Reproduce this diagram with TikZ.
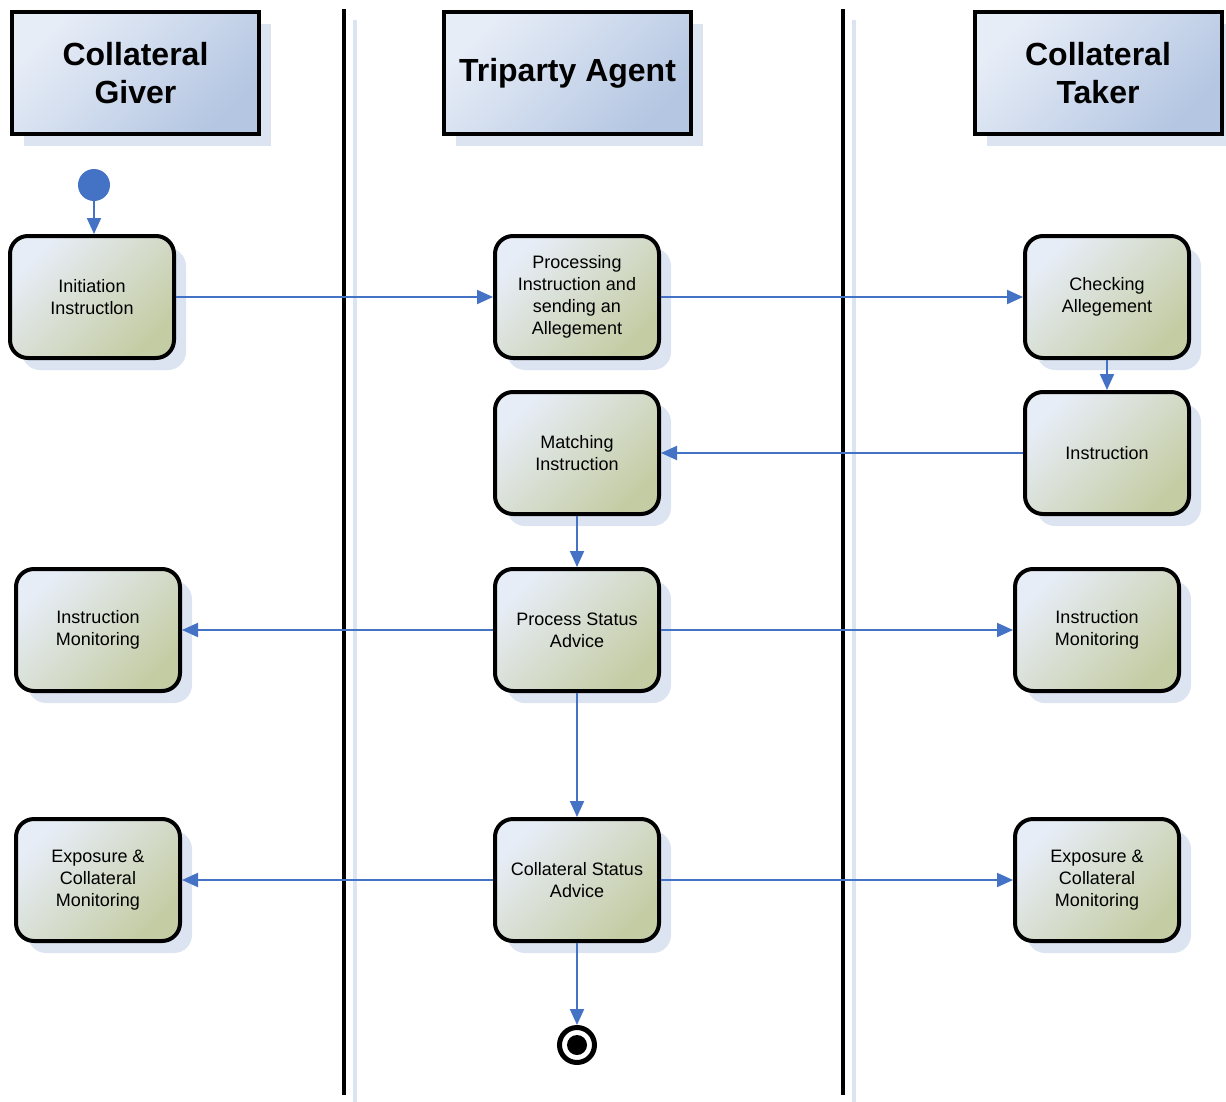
\documentclass[tikz,border=0pt]{standalone}
\usepackage{fontspec}
\setmainfont{Liberation Sans}
\usetikzlibrary{positioning,arrows.meta,shadows}

\definecolor{flowblue}{RGB}{68,114,196}
\definecolor{shadowblue}{RGB}{220,228,242}
\definecolor{boxlight}{RGB}{231,237,247}
\definecolor{boxolive}{RGB}{196,204,164}
\definecolor{headdark}{RGB}{180,198,226}

\tikzset{
  lanehead/.style={draw, line width=2pt, minimum width=123.5pt, minimum height=61pt,
    align=center, inner sep=0pt, font=\bfseries\fontsize{16}{19}\selectfont,
    top color=boxlight, bottom color=headdark, shading angle=45,
    drop shadow={shadow xshift=6pt, shadow yshift=-6pt, fill=shadowblue, opacity=1}},
  activity/.style={draw, line width=2pt, rounded corners=9pt, minimum width=82pt,
    minimum height=61pt, align=center, inner sep=0pt, font=\fontsize{9}{11}\selectfont,
    top color=boxlight, bottom color=boxolive, shading angle=45,
    drop shadow={shadow xshift=6pt, shadow yshift=-6pt, fill=shadowblue, opacity=1}},
  flow/.style={flowblue, line width=1pt, -{Triangle[length=8pt,width=7pt]}},
}

\begin{document}
\begin{tikzpicture}[x=0.5pt,y=-0.5pt]
  \useasboundingbox (0,0) rectangle (1226,1102);

  % swimlane separators
  \draw[shadowblue, line width=2pt] (355,20) -- (355,1102);
  \draw[shadowblue, line width=2pt] (854,20) -- (854,1102);
  \draw[line width=2pt] (344,9) -- (344,1095);
  \draw[line width=2pt] (843,9) -- (843,1095);

  % lane headers
  \node[lanehead] (giver) at (135.5,73) {Collateral\\Giver};
  \node[lanehead] (agent) at (567.5,73) {Triparty Agent};
  \node[lanehead] (taker) at (1098,73) {Collateral\\Taker};

  % start and end
  \node[circle, fill=flowblue, minimum size=16pt, inner sep=0pt] (start) at (94,185) {};
  \node[circle, draw, line width=2.5pt, minimum size=17.5pt, inner sep=0pt] (finish) at (577,1045) {};
  \fill (finish) circle (5pt);

  % activities
  \node[activity] (init) at (92,297) {Initiation\\Instructlon};
  \node[activity] (process) at (577,297) {Processing\\Instruction and\\sending an\\Allegement};
  \node[activity] (check) at (1107,297) {Checking\\Allegement};
  \node[activity] (match) at (577,453) {Matching\\Instruction};
  \node[activity] (instr) at (1107,453) {Instruction};
  \node[activity] (monleft) at (98,630) {Instruction\\Monitoring};
  \node[activity] (status) at (577,630) {Process Status\\Advice};
  \node[activity] (monright) at (1097,630) {Instruction\\Monitoring};
  \node[activity] (expleft) at (98,880) {Exposure \&\\Collateral\\Monitoring};
  \node[activity] (collat) at (577,880) {Collateral Status\\Advice};
  \node[activity] (expright) at (1097,880) {Exposure \&\\Collateral\\Monitoring};

  % flows
  \draw[flow] (start) -- (start |- init.north);
  \draw[flow] (init) -- (process);
  \draw[flow] (process) -- (check);
  \draw[flow] (check) -- (instr);
  \draw[flow] (instr) -- (match);
  \draw[flow] (match) -- (status);
  \draw[flow] (status) -- (monleft);
  \draw[flow] (status) -- (monright);
  \draw[flow] (status) -- (collat);
  \draw[flow] (collat) -- (expleft);
  \draw[flow] (collat) -- (expright);
  \draw[flow] (collat) -- (finish);
\end{tikzpicture}
\end{document}
